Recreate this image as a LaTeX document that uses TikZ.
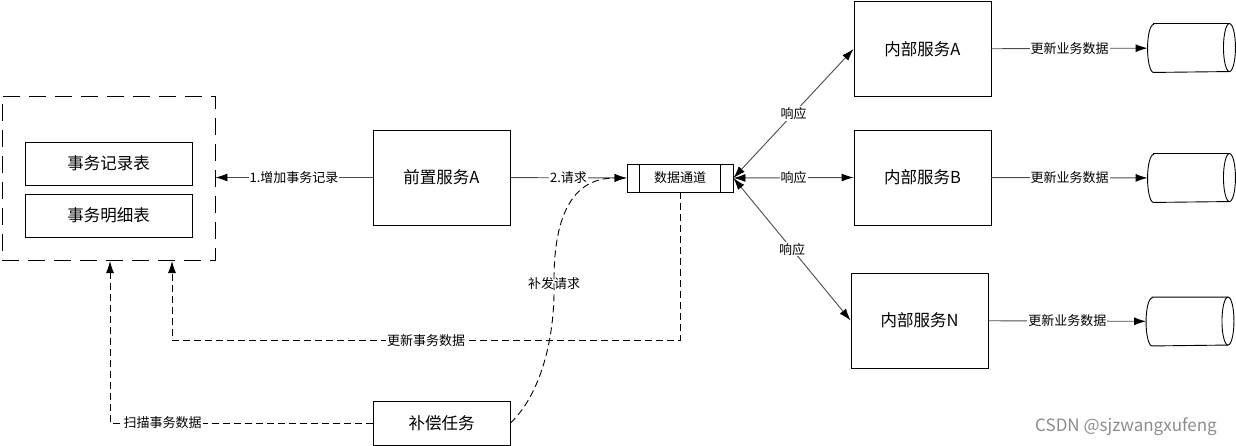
\documentclass[tikz,border=0pt]{standalone}
\usepackage{fontspec}
\setmainfont{Noto Sans CJK SC}
\usetikzlibrary{arrows.meta}

\newcommand\dbcase[1]{%
  \draw ([xshift=6pt]#1.north west) -- ([xshift=-6pt]#1.north east)
    arc (90:-90:6pt and 24pt) -- ([xshift=6pt]#1.south west)
    arc (270:90:6pt and 24pt) -- cycle;
  \draw ([xshift=-6pt]#1.north east) arc (90:270:6pt and 24pt);
}

\begin{document}
\begin{tikzpicture}[
    x=1pt,y=-1pt,
    line width=0.9pt,
    >={Latex[length=12pt,width=8pt,color=black]},
    box/.style={draw,fill=white,minimum width=137pt,minimum height=95pt,font=\fontsize{16.5pt}{19pt}\selectfont},
    tbl/.style={draw,minimum width=167pt,minimum height=43pt,font=\fontsize{16.5pt}{19pt}\selectfont},
    grp/.style={draw,dash pattern=on 17pt off 9pt,minimum width=213pt,minimum height=164pt},
    db/.style={minimum width=87pt,minimum height=48pt,inner sep=0pt},
    lbl/.style={fill=white,text=black,inner sep=1pt,font=\fontsize{13pt}{15pt}\selectfont},
    link/.style={draw,->,black!70},
    back/.style={draw,->,dash pattern=on 7pt off 4pt}
]
\useasboundingbox (0,0) rectangle (1236,446);

\node[grp]  (grp) at (108.5,178)   {};
\node[tbl]  (t1)  at (108.5,163.5) {事务记录表};
\node[tbl]  (t2)  at (108.5,215.5) {事务明细表};
\node[box]  (qz)  at (441.5,177.5) {前置服务A};
\node[draw,minimum width=106pt,minimum height=28pt,font=\fontsize{13pt}{15pt}\selectfont] (sj) at (680,178) {数据通道};
\node[box]  (nA)  at (922.5,49)    {内部服务A};
\node[box]  (nB)  at (922.5,177.5) {内部服务B};
\node[box]  (nN)  at (919.5,320.5) {内部服务N};
\node[db]   (dA)  at (1191.5,48)   {};
\node[db]   (dB)  at (1191.5,178)  {};
\node[db]   (dN)  at (1190,321.5)  {};
\node[box,minimum height=44pt] (bc) at (441.5,423) {补偿任务};
\node[text=black!45,font=\fontsize{17pt}{20pt}\selectfont] (wm) at (1126,427) {CSDN @sjzwangxufeng};

\draw ([xshift=13pt]sj.north west) -- ([xshift=13pt]sj.south west);
\draw ([xshift=-13pt]sj.north east) -- ([xshift=-13pt]sj.south east);
\dbcase{dA}
\dbcase{dB}
\dbcase{dN}

\coordinate (scanin) at (110,261);
\coordinate (updin)  at (172,261);

\draw[link] (qz) -- node[lbl] {1.增加事务记录} (grp.east |- qz);
\draw[link] (qz) -- node[lbl] {2.请求} (sj);
\draw[link,<->] (sj.east) -- node[lbl] {响应} (nA.west);
\draw[link,<->] (sj.east) -- node[lbl] {响应} (nB.west);
\draw[link,<->] (sj.east) -- node[lbl] {响应} (nN.west);
\draw[link] (nA) -- node[lbl] {更新业务数据} (dA);
\draw[link] (nB) -- node[lbl] {更新业务数据} (dB);
\draw[link] (nN) -- node[lbl] {更新业务数据} (dN);

\draw[back] (sj.south) -- ++(0,148) -| node[lbl,pos=0.25] {更新事务数据} (updin);
\draw[back] (bc.west) -| node[lbl,pos=0.4] {扫描事务数据} (scanin);
\draw[back] (bc.east) .. controls (540,395) and (555,340) .. (554,284)
    node[font=\fontsize{13pt}{15pt}\selectfont] (bf) {补发请求}
    .. controls (553,190) and (590,178) .. (sj.west);
\end{tikzpicture}
\end{document}
